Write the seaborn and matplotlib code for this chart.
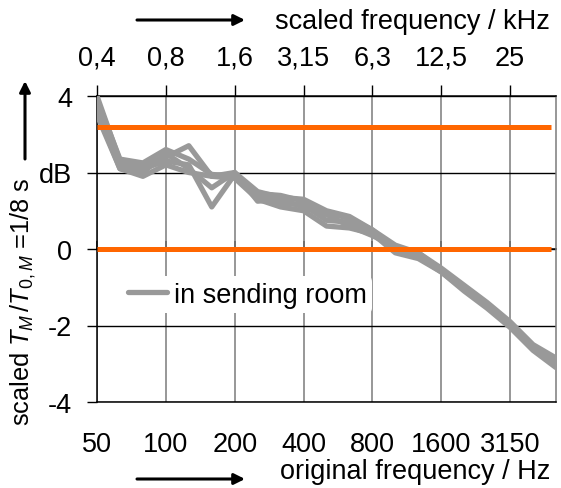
import numpy as np
import pandas as pd
import matplotlib
matplotlib.use("Agg")
import matplotlib.pyplot as plt
from matplotlib.lines import Line2D
import seaborn as sns

# ---- data ----
bands_hz = [50, 63, 80, 100, 125, 160, 200, 250, 315, 400, 500, 630, 800,
            1000, 1250, 1600, 2000, 2500, 3150, 4000, 5000]
bottom_labels = ["50", "100", "200", "400", "800", "1600", "3150"]
top_labels = ["0,4", "0,8", "1,6", "3,15", "6,3", "12,5", "25"]
y_ticks = [-4, -2, 0, 2, 4]
y_ticklabels = ["-4", "-2", "0", "dB", "4"]
orange_levels = [0.0, 3.2]

run_a = [4.0, 2.30, 2.20, 2.40, 2.70, 1.90, 2.00, 1.50, 1.35, 1.30, 1.00, 0.85, 0.50,
         0.00, -0.15, -0.55, -1.00, -1.45, -1.95, -2.55, -2.95]
run_b = [3.8, 2.20, 2.10, 2.30, 2.20, 1.10, 1.95, 1.40, 1.20, 1.15, 0.75, 0.70, 0.45,
         -0.05, -0.20, -0.60, -1.05, -1.50, -2.00, -2.60, -3.05]
run_c = [3.6, 2.10, 1.90, 2.20, 2.00, 1.90, 1.85, 1.30, 1.10, 1.00, 0.60, 0.55, 0.40,
         -0.10, -0.25, -0.60, -1.10, -1.55, -2.05, -2.65, -3.10]
run_d = [3.5, 2.10, 2.00, 2.50, 2.10, 1.60, 2.00, 1.25, 1.30, 1.10, 0.90, 0.60, 0.35,
         0.05, -0.10, -0.50, -0.95, -1.40, -1.90, -2.50, -2.85]
run_e = [3.9, 2.35, 2.25, 2.60, 2.35, 1.95, 1.90, 1.45, 1.40, 1.25, 0.95, 0.80, 0.50,
         0.10, -0.10, -0.55, -1.00, -1.50, -2.00, -2.55, -2.90]
runs = {"a": run_a, "b": run_b, "c": run_c, "d": run_d, "e": run_e}

legend_label = "in sending room"

# ---- build long table ----
rows = []
for name, vals in runs.items():
    for i, (f, v) in enumerate(zip(bands_hz, vals)):
        rows.append({"run": name, "idx": i, "freq": f, "value": v})
df = pd.DataFrame(rows)

sns.set_theme(style="white")
plt.rcParams["font.family"] = ["Liberation Sans", "DejaVu Sans"]
plt.rcParams["mathtext.fontset"] = "custom"
plt.rcParams["mathtext.rm"] = "Liberation Sans"
plt.rcParams["mathtext.it"] = "Liberation Sans:italic"
for k in ["text.color", "axes.labelcolor", "xtick.color", "ytick.color"]:
    plt.rcParams[k] = "black"
FS = 19.5

W, H = 561, 489
fig = plt.figure(figsize=(W / 100, H / 100), dpi=100)
ax = fig.add_axes([97 / W, (H - 403) / H, (556 - 97) / W, (403 - 97) / H])

GRAY = "#999999"
ORANGE = "#FF6600"

sns.lineplot(data=df, x="idx", y="value", units="run", estimator=None,
             color=GRAY, lw=3.8, ax=ax, legend=False, zorder=3,
             solid_joinstyle="round", solid_capstyle="round")
ax.hlines(orange_levels, xmin=0, xmax=len(bands_hz) - 1.2, colors=ORANGE,
          lw=3.6, zorder=4)

ax.set_xlim(0, len(bands_hz) - 1)
ax.set_ylim(-4, 4)

tick_pos = [bands_hz.index(int(l)) for l in bottom_labels]
ax.set_xticks(tick_pos)
ax.set_xticklabels(bottom_labels, fontsize=FS)
ax.set_yticks(y_ticks)
ax.set_yticklabels(y_ticklabels, fontsize=FS)
ax.set_xlabel("")
ax.set_ylabel("")

ax.set_axisbelow(True)
ax.xaxis.grid(True, color="#7a7a7a", lw=1.1)
ax.yaxis.grid(True, color="black", lw=1.0)

ax.tick_params(axis="x", bottom=False, length=0, pad=21, colors="black")
ax.tick_params(axis="y", left=True, direction="out", length=7, width=1,
               pad=11, colors="black")

for side in ["left", "top", "bottom"]:
    ax.spines[side].set_color("black")
    ax.spines[side].set_linewidth(1.1)
ax.spines["right"].set_color("#7a7a7a")
ax.spines["right"].set_linewidth(1.1)

# top axis
top = ax.secondary_xaxis("top")
top.set_xticks(tick_pos)
top.set_xticklabels(top_labels, fontsize=FS)
top.tick_params(direction="out", length=8, width=1, pad=10, colors="black")
top.spines["top"].set_visible(False)

# tick marks at y = 0 (axis crossing)
mid = ax.secondary_xaxis(0.5)
mid.set_xticks(tick_pos)
mid.set_xticklabels([])
mid.tick_params(direction="out", length=6, width=1.2, colors="#333333")
mid.spines["bottom"].set_visible(False)

# legend
handle = Line2D([], [], color=GRAY, lw=3.8, solid_capstyle="round")
leg = ax.legend([handle], [legend_label], loc="center left",
                bbox_to_anchor=(0.055, 0.35), frameon=True, fontsize=FS,
                handlelength=1.45, handletextpad=0.25, borderpad=0.2,
                borderaxespad=0)
leg.get_frame().set_facecolor("white")
leg.get_frame().set_edgecolor("none")
leg.get_frame().set_alpha(1)

# axis titles and arrows
fig.text(550 / W, 1 - 22 / H, "scaled frequency / kHz", ha="right",
         va="center", fontsize=FS)
fig.text(550 / W, 1 - 472 / H, "original frequency / Hz", ha="right",
         va="center", fontsize=FS)
fig.text(23 / W, 1 - 302 / H, r"scaled $T_M\,/T_{0,M}$ =1/8 s", rotation=90,
         ha="center", va="center", fontsize=18.3)

arrow_kw = dict(arrowstyle="-|>", lw=2.2, color="black", mutation_scale=16,
                shrinkA=0, shrinkB=0)
ax.annotate("", xy=(245 / W, 1 - 21 / H), xytext=(137 / W, 1 - 21 / H),
            xycoords="figure fraction", textcoords="figure fraction",
            arrowprops=arrow_kw, annotation_clip=False)
ax.annotate("", xy=(245 / W, 1 - 480 / H), xytext=(137 / W, 1 - 480 / H),
            xycoords="figure fraction", textcoords="figure fraction",
            arrowprops=arrow_kw, annotation_clip=False)
ax.annotate("", xy=(25 / W, 1 - 82 / H), xytext=(25 / W, 1 - 160 / H),
            xycoords="figure fraction", textcoords="figure fraction",
            arrowprops=arrow_kw, annotation_clip=False)

fig.savefig("out.png", dpi=100, facecolor="white")
